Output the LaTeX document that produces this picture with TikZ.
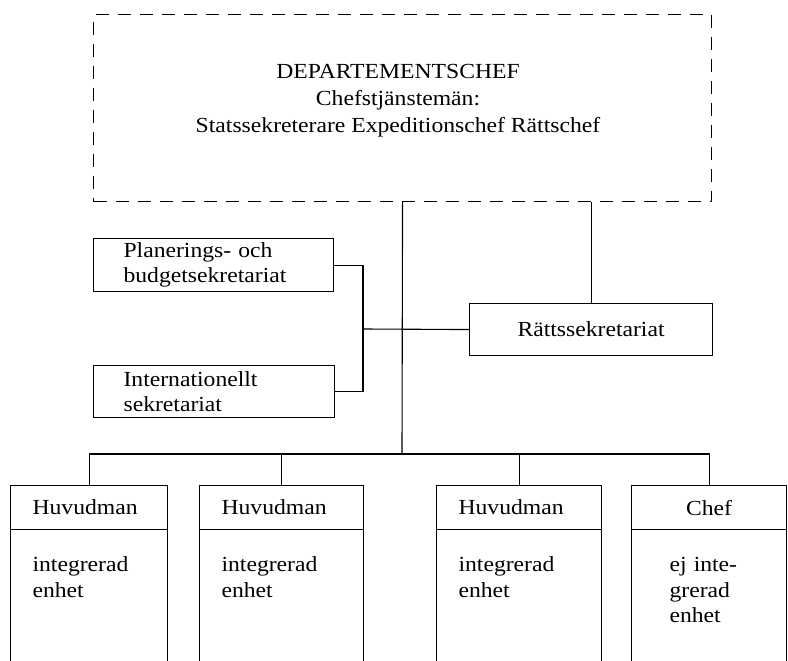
\documentclass[tikz,border=0pt]{standalone}
\usepackage{fontspec}
\setmainfont{Liberation Serif}[FakeStretch=1.1]

\begin{document}
\begin{tikzpicture}[x=1pt,y=-1pt,line width=1.1pt,
  every node/.style={font=\fontsize{21.5}{24.5}\selectfont},
  orgbox/.style={draw,anchor=north west,inner ysep=0pt},
  headbox/.style={orgbox,minimum height=44pt,align=left,inner xsep=22pt},
  bodybox/.style={orgbox,align=left,inner xsep=22pt,text height=42pt,text depth=150pt,
    font=\fontsize{21.5}{25.5}\selectfont}]

\useasboundingbox (0,0) rectangle (788,661);
\clip (0,0) rectangle (788,661);

\node[draw,dash pattern=on 13pt off 9pt,anchor=north west,minimum width=618pt,
  minimum height=187pt] (dep) at (93,14) {};
\node[align=center,font=\fontsize{21.5}{27}\selectfont] (deptext) at (398,101)
  {DEPARTEMENTSCHEF\\Chefstjänstemän:\\Statssekreterare Expeditionschef Rättschef};

\node[orgbox,minimum height=53pt,inner xsep=30pt,text width=180pt,align=left] (plan) at (93,238)
  {Planerings- och\\budgetsekretariat};

\node[orgbox,minimum height=52pt,inner xsep=30pt,text width=181pt,align=left] (intl) at (93,365)
  {Internationellt\\sekretariat};

\node[orgbox,minimum width=243pt,minimum height=52pt] (ratt) at (469,303) {Rättssekretariat};

\coordinate (join) at (363,329);
\coordinate (bus) at (402,454);

\node[headbox,text width=113pt] (h1) at (10,485) {Huvudman};
\node[bodybox,text width=113pt] (b1) at (10,529) {integrerad\\enhet};

\node[headbox,text width=120pt] (h2) at (199,485) {Huvudman};
\node[bodybox,text width=120pt] (b2) at (199,529) {integrerad\\enhet};

\node[headbox,text width=121pt] (h3) at (436,485) {Huvudman};
\node[bodybox,text width=121pt] (b3) at (436,529) {integrerad\\enhet};

\node[headbox,text width=111pt,align=center] (h4) at (631,485) {Chef};
\node[bodybox,inner xsep=38pt,text width=79pt] (b4) at (631,529) {ej inte-\\grerad\\enhet};

\draw (dep.south) -- (bus);
\draw (ratt.north) -- (ratt.north |- dep.south);

\draw (plan.east) -| (join) |- (intl.east);
\draw (join) -- (ratt.west);

\draw (h1.north) |- (bus) -| (h4.north);
\draw (h2.north) -- (h2.north |- bus);
\draw (h3.north) -- (h3.north |- bus);

\end{tikzpicture}
\end{document}
